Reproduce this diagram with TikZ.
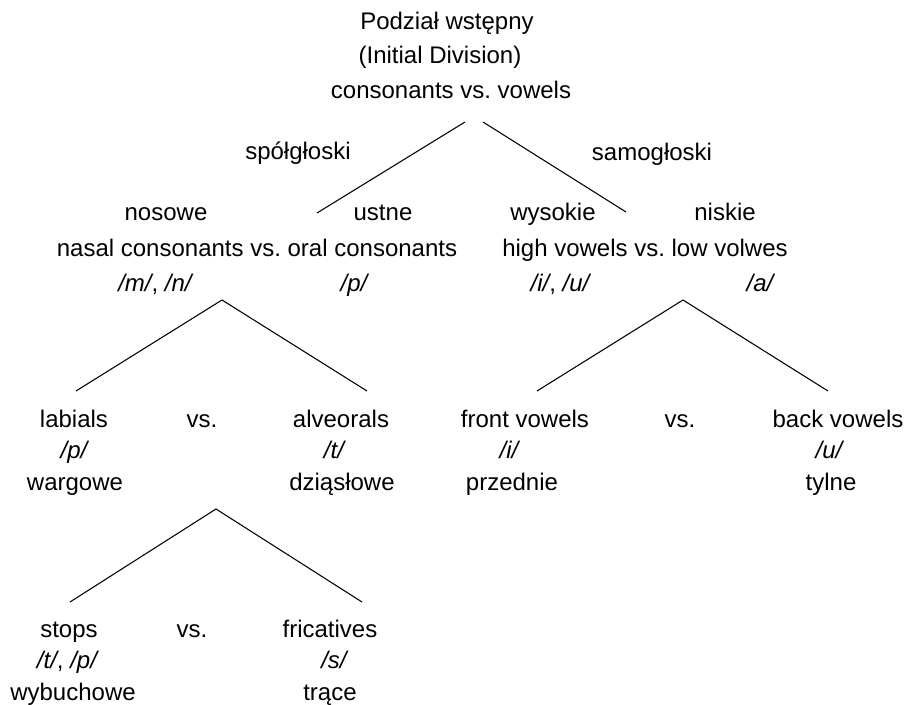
\documentclass[tikz,border=0pt]{standalone}
\usepackage{fontspec}
\setmainfont{Liberation Sans}
\usepackage{tikz}
\frenchspacing

\begin{document}
\fontsize{18}{21}\selectfont
\begin{tikzpicture}[x=0.75pt, y=-0.75pt, line width=0.8pt,
  lbl/.style={anchor=base, inner sep=0pt}]
\useasboundingbox (0,0) rectangle (906,705);
% top of the tree
\node[lbl] (title) at (447,30) {Podział wstępny};
\node[lbl] (init) at (440,64) {(Initial Division)};
\node[lbl] (cv) at (451,99) {consonants vs. vowels};
\node[lbl] (spol) at (298,160) {spółgłoski};
\node[lbl] (samo) at (652,161) {samogłoski};
% second level
\node[lbl] (nos) at (166,221) {nosowe};
\node[lbl] (ust) at (383,221) {ustne};
\node[lbl] (wys) at (553,221) {wysokie};
\node[lbl] (nis) at (725,221) {niskie};
\node[lbl] (nasal) at (257,257) {nasal consonants vs. oral consonants};
\node[lbl] (high) at (645,257) {high vowels vs. low volwes};
\node[lbl] (mn) at (156,292) {\textit{/m/}, \textit{/n/}};
\node[lbl] (p) at (355,292) {\textit{/p/}};
\node[lbl] (iu) at (561,292) {\textit{/i/}, \textit{/u/}};
\node[lbl] (a) at (761,292) {\textit{/a/}};
% third level
\node[lbl] (lab) at (74,427) {labials};
\node[lbl] (vsA) at (202,427) {vs.};
\node[lbl] (alv) at (341,427) {alveorals};
\node[lbl] (labp) at (75,458) {\textit{/p/}};
\node[lbl] (alvt) at (335,458) {\textit{/t/}};
\node[lbl] (warg) at (75,490) {wargowe};
\node[lbl] (dzia) at (342,490) {dziąsłowe};
\node[lbl] (front) at (525,427) {front vowels};
\node[lbl] (vsB) at (680,427) {vs.};
\node[lbl] (back) at (838,427) {back vowels};
\node[lbl] (fri) at (510,458) {\textit{/i/}};
\node[lbl] (bacu) at (830,458) {\textit{/u/}};
\node[lbl] (prze) at (512,490) {przednie};
\node[lbl] (tyl) at (831,490) {tylne};
% fourth level
\node[lbl] (stop) at (69,637) {stops};
\node[lbl] (vsC) at (192,637) {vs.};
\node[lbl] (fric) at (330,637) {fricatives};
\node[lbl] (tp) at (68,668) {\textit{/t/}, \textit{/p/}};
\node[lbl] (s) at (335,668) {\textit{/s/}};
\node[lbl] (wyb) at (73,700) {wybuchowe};
\node[lbl] (trac) at (330,700) {trące};
% branch points
\coordinate (TL) at (465,122) ;
\coordinate (TLe) at (317,213) ;
\coordinate (TR) at (483,122) ;
\coordinate (TRe) at (626,212) ;
\coordinate (A) at (222,300) ;
\coordinate (AL) at (76,391) ;
\coordinate (AR) at (367,391) ;
\coordinate (B) at (683,300) ;
\coordinate (BL) at (537,391) ;
\coordinate (BR) at (828,391) ;
\coordinate (C) at (216,509) ;
\coordinate (CL) at (70,602) ;
\coordinate (CR) at (362,602) ;
\draw[black] (TL) -- (TLe) ;
\draw[black] (TR) -- (TRe) ;
\draw[black] (AL) -- (A) -- (AR) ;
\draw[black] (BL) -- (B) -- (BR) ;
\draw[black] (CL) -- (C) -- (CR) ;
\end{tikzpicture}
\end{document}
